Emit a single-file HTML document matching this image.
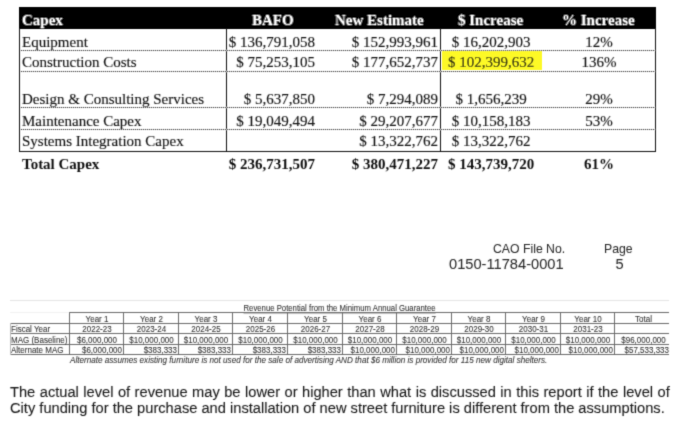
<!DOCTYPE html>
<html><head><meta charset="utf-8">
<style>
*{margin:0;padding:0;box-sizing:border-box}
html,body{width:677px;height:428px;background:#fff;overflow:hidden;position:relative}
.a{position:absolute;white-space:nowrap}
.s{font-family:"Liberation Serif","Times New Roman",serif;font-size:15px;line-height:17px;color:#151515;-webkit-text-stroke:0.15px #151515}
.b{font-weight:bold;-webkit-text-stroke-width:0;color:#111}
.w{color:#fff;-webkit-text-stroke:0}
.r{text-align:right}
.c{text-align:center}
.ln{position:absolute;background:#111}
.dot{position:absolute;height:1px;background:repeating-linear-gradient(90deg,#000 0 1px,#c4c4c4 1px 2px)}
.sans{font-family:"Liberation Sans",Arial,sans-serif;-webkit-text-stroke:0.1px #1a1a1a}
.t{font-family:"Liberation Sans",Arial,sans-serif;font-size:8px;line-height:9px;color:#333;transform:scaleY(1.18);transform-origin:0 7.3px;-webkit-text-stroke:0.08px #333}
.i{font-style:italic}
#wrap{position:absolute;left:0;top:0;width:677px;height:428px;filter:url(#bl)}
</style></head><body><svg width="0" height="0" style="position:absolute"><filter id="bl"><feConvolveMatrix order="3" kernelMatrix="0.0192 0.1001 0.0192 0.1001 0.5228 0.1001 0.0192 0.1001 0.0192" edgeMode="duplicate" preserveAlpha="false"/></filter></svg><div id="wrap">
<!-- top table -->
<div class="ln" style="left:19px;top:7px;width:637px;height:21.5px;background:#000"></div>
<div class="ln" style="left:19px;top:28px;width:1px;height:123px"></div>
<div class="ln" style="left:655px;top:28px;width:1px;height:123px"></div>
<div class="ln" style="left:226px;top:28px;width:1px;height:123px"></div>
<div class="ln" style="left:440px;top:28px;width:1px;height:123px"></div>
<div class="ln" style="left:19px;top:151px;width:637px;height:1px"></div>
<div class="a" style="left:442px;top:51px;width:99.5px;height:19px;background:#fdf926"></div>
<div class="dot" style="left:21px;top:50px;width:634px"></div>
<div class="dot" style="left:21px;top:71px;width:634px"></div>
<div class="dot" style="left:21px;top:107px;width:634px"></div>
<div class="dot" style="left:21px;top:129px;width:634px"></div>

<div class="a s b w" style="left:22px;top:12px">Capex</div>
<div class="a s b w" style="left:252px;top:12px">BAFO</div>
<div class="a s b w" style="left:335px;top:12px">New Estimate</div>
<div class="a s b w" style="left:458px;top:12px">$ Increase</div>
<div class="a s b w" style="left:562px;top:12px">% Increase</div>

<div class="a s" style="left:22px;top:34px">Equipment</div>
<div class="a s" style="left:22px;top:54px">Construction Costs</div>
<div class="a s" style="left:22px;top:91px">Design &amp; Consulting Services</div>
<div class="a s" style="left:22px;top:113px">Maintenance Capex</div>
<div class="a s" style="left:22px;top:133px">Systems Integration Capex</div>
<div class="a s b" style="left:22px;top:156px">Total Capex</div>

<div class="a s r" style="right:362px;top:34px">$ 136,791,058</div>
<div class="a s r" style="right:362px;top:54px">$ 75,253,105</div>
<div class="a s r" style="right:362px;top:91px">$ 5,637,850</div>
<div class="a s r" style="right:362px;top:113px">$ 19,049,494</div>
<div class="a s b r" style="right:362px;top:156px">$ 236,731,507</div>

<div class="a s r" style="right:239px;top:34px">$ 152,993,961</div>
<div class="a s r" style="right:239px;top:54px">$ 177,652,737</div>
<div class="a s r" style="right:239px;top:91px">$ 7,294,089</div>
<div class="a s r" style="right:239px;top:113px">$ 29,207,677</div>
<div class="a s r" style="right:239px;top:133px">$ 13,322,762</div>
<div class="a s b r" style="right:239px;top:156px">$ 380,471,227</div>

<div class="a s c" style="left:441px;width:100px;top:34px">$ 16,202,903</div>
<div class="a s c" style="left:441px;width:100px;top:54px">$ 102,399,632</div>
<div class="a s c" style="left:441px;width:100px;top:91px">$ 1,656,239</div>
<div class="a s c" style="left:441px;width:100px;top:113px">$ 10,158,183</div>
<div class="a s c" style="left:441px;width:100px;top:133px">$ 13,322,762</div>
<div class="a s b c" style="left:441px;width:100px;top:156px">$ 143,739,720</div>

<div class="a s c" style="left:549px;width:100px;top:34px">12%</div>
<div class="a s c" style="left:549px;width:100px;top:54px">136%</div>
<div class="a s c" style="left:549px;width:100px;top:91px">29%</div>
<div class="a s c" style="left:549px;width:100px;top:113px">53%</div>
<div class="a s b c" style="left:549px;width:100px;top:156px">61%</div>

<!-- CAO -->
<div class="a sans" style="left:493px;top:242px;font-size:12.25px;color:#2a2a2a;-webkit-text-stroke:0.05px #2a2a2a">CAO File No.</div>
<div class="a sans" style="left:604px;top:242px;font-size:12.25px;color:#2a2a2a;-webkit-text-stroke:0.05px #2a2a2a">Page</div>
<div class="a sans" style="left:449px;top:256px;font-size:14.67px;color:#2a2a2a;-webkit-text-stroke:0.05px #2a2a2a">0150-11784-0001</div>
<div class="a sans" style="left:615.5px;top:256px;font-size:14.67px;color:#2a2a2a;-webkit-text-stroke:0.05px #2a2a2a">5</div>

<!-- small table -->
<div class="ln" style="left:10px;top:300px;width:659px;height:1px;background:#e4e4e4"></div>
<div class="ln" style="left:10px;top:312px;width:59px;height:1px;background:#f2f2f2"></div>
<div class="a t" style="left:243.5px;top:303.5px;text-decoration:underline;font-size:7.75px">Revenue Potential from the Minimum Annual Guarantee</div>
<div class="ln" style="left:69px;top:312px;width:600px;height:1px;background:#6a6a6a"></div>
<div class="ln" style="left:10px;top:323px;width:659px;height:1px;background:#6a6a6a"></div>
<div class="ln" style="left:10px;top:333px;width:659px;height:1px;background:#6a6a6a"></div>
<div class="ln" style="left:10px;top:344px;width:659px;height:1px;background:#6a6a6a"></div>
<div class="ln" style="left:10px;top:354px;width:659px;height:1px;background:#6a6a6a"></div>
<div class="ln" style="left:10px;top:323px;width:1px;height:32px;background:#bbb"></div>
<div class="ln" style="left:69px;top:312px;width:1px;height:43px;background:#6a6a6a"></div>
<div class="ln" style="left:123px;top:312px;width:1px;height:43px;background:#6a6a6a"></div>
<div class="ln" style="left:178px;top:312px;width:1px;height:43px;background:#6a6a6a"></div>
<div class="ln" style="left:232px;top:312px;width:1px;height:43px;background:#6a6a6a"></div>
<div class="ln" style="left:287px;top:312px;width:1px;height:43px;background:#6a6a6a"></div>
<div class="ln" style="left:342px;top:312px;width:1px;height:43px;background:#6a6a6a"></div>
<div class="ln" style="left:396px;top:312px;width:1px;height:43px;background:#6a6a6a"></div>
<div class="ln" style="left:451px;top:312px;width:1px;height:43px;background:#6a6a6a"></div>
<div class="ln" style="left:505px;top:312px;width:1px;height:43px;background:#6a6a6a"></div>
<div class="ln" style="left:560px;top:312px;width:1px;height:43px;background:#6a6a6a"></div>
<div class="ln" style="left:614px;top:312px;width:1px;height:43px;background:#6a6a6a"></div>
<div class="a t c" style="left:70px;width:54px;top:315px">Year 1</div>
<div class="a t c" style="left:70px;width:54px;top:325px">2022-23</div>
<div class="a t c" style="left:70px;width:54px;top:336px">$6,000,000</div>
<div class="a t r" style="left:69px;width:53px;top:346px">$6,000,000</div>
<div class="a t c" style="left:124px;width:55px;top:315px">Year 2</div>
<div class="a t c" style="left:124px;width:55px;top:325px">2023-24</div>
<div class="a t c" style="left:124px;width:55px;top:336px">$10,000,000</div>
<div class="a t r" style="left:123px;width:54px;top:346px">$383,333</div>
<div class="a t c" style="left:179px;width:54px;top:315px">Year 3</div>
<div class="a t c" style="left:179px;width:54px;top:325px">2024-25</div>
<div class="a t c" style="left:179px;width:54px;top:336px">$10,000,000</div>
<div class="a t r" style="left:178px;width:53px;top:346px">$383,333</div>
<div class="a t c" style="left:233px;width:55px;top:315px">Year 4</div>
<div class="a t c" style="left:233px;width:55px;top:325px">2025-26</div>
<div class="a t c" style="left:233px;width:55px;top:336px">$10,000,000</div>
<div class="a t r" style="left:232px;width:54px;top:346px">$383,333</div>
<div class="a t c" style="left:288px;width:55px;top:315px">Year 5</div>
<div class="a t c" style="left:288px;width:55px;top:325px">2026-27</div>
<div class="a t c" style="left:288px;width:55px;top:336px">$10,000,000</div>
<div class="a t r" style="left:287px;width:54px;top:346px">$383,333</div>
<div class="a t c" style="left:343px;width:54px;top:315px">Year 6</div>
<div class="a t c" style="left:343px;width:54px;top:325px">2027-28</div>
<div class="a t c" style="left:343px;width:54px;top:336px">$10,000,000</div>
<div class="a t r" style="left:342px;width:53px;top:346px">$10,000,000</div>
<div class="a t c" style="left:397px;width:55px;top:315px">Year 7</div>
<div class="a t c" style="left:397px;width:55px;top:325px">2028-29</div>
<div class="a t c" style="left:397px;width:55px;top:336px">$10,000,000</div>
<div class="a t r" style="left:396px;width:54px;top:346px">$10,000,000</div>
<div class="a t c" style="left:452px;width:54px;top:315px">Year 8</div>
<div class="a t c" style="left:452px;width:54px;top:325px">2029-30</div>
<div class="a t c" style="left:452px;width:54px;top:336px">$10,000,000</div>
<div class="a t r" style="left:451px;width:53px;top:346px">$10,000,000</div>
<div class="a t c" style="left:506px;width:55px;top:315px">Year 9</div>
<div class="a t c" style="left:506px;width:55px;top:325px">2030-31</div>
<div class="a t c" style="left:506px;width:55px;top:336px">$10,000,000</div>
<div class="a t r" style="left:505px;width:54px;top:346px">$10,000,000</div>
<div class="a t c" style="left:561px;width:54px;top:315px">Year 10</div>
<div class="a t c" style="left:561px;width:54px;top:325px">2031-23</div>
<div class="a t c" style="left:561px;width:54px;top:336px">$10,000,000</div>
<div class="a t r" style="left:560px;width:53px;top:346px">$10,000,000</div>
<div class="a t c" style="left:616px;width:55px;top:315px">Total</div>
<div class="a t c" style="left:616px;width:55px;top:336px">$96,000,000</div>
<div class="a t r" style="left:614px;width:55px;top:346px">$57,533,333</div>
<div class="a t" style="left:11px;top:325px">Fiscal Year</div>
<div class="a t" style="left:11px;top:336px">MAG (Baseline)</div>
<div class="a t" style="left:11px;top:346px">Alternate MAG</div>
<div class="a t i" style="left:70px;top:356px;font-size:8.15px">Alternate assumes existing furniture is not used for the sale of advertising AND that $6 million is provided for 115 new digital shelters.</div>
<!-- paragraph -->
<div class="a sans" style="left:10px;top:385px;font-size:14.67px;line-height:15px;color:#1a1a1a;word-spacing:0.4px">The actual level of revenue may be lower or higher than what is discussed in this report if the level of</div>
<div class="a sans" style="left:10px;top:401px;font-size:14.67px;line-height:15px;color:#1a1a1a">City funding for the purchase and installation of new street furniture is different from the assumptions.</div>
</div></body></html>
